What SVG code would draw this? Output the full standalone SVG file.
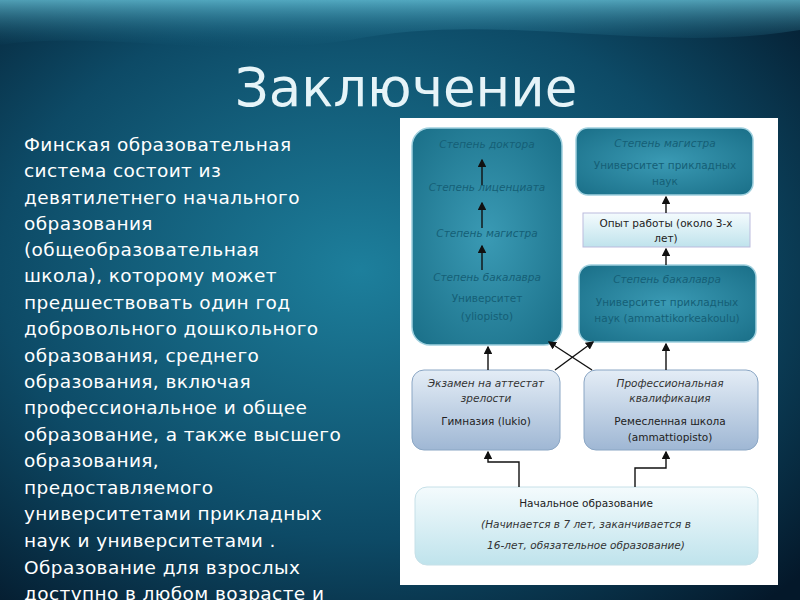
<svg xmlns="http://www.w3.org/2000/svg" width="800" height="600" viewBox="0 0 800 600">
<defs>
<radialGradient id="bg" cx="0.45" cy="0.45" r="0.75">
<stop offset="0" stop-color="#1d7f9c"/><stop offset="0.6" stop-color="#0d4a66"/><stop offset="1" stop-color="#04182a"/>
</radialGradient>
<linearGradient id="top" x1="0" y1="0" x2="0" y2="1"><stop offset="0" stop-color="#6fd0e6"/><stop offset="1" stop-color="#1a6b88" stop-opacity="0"/></linearGradient>
<radialGradient id="dark" cx="0.5" cy="0.5" r="0.7"><stop offset="0" stop-color="#3a9ab4"/><stop offset="1" stop-color="#1a6f88"/></radialGradient>
<linearGradient id="lite" x1="0" y1="0" x2="0" y2="1"><stop offset="0" stop-color="#e4edf6"/><stop offset="1" stop-color="#9fb7d4"/></linearGradient>
<linearGradient id="pale" x1="0" y1="0" x2="0" y2="1"><stop offset="0" stop-color="#f4fbfd"/><stop offset="1" stop-color="#bfe3ec"/></linearGradient>
<marker id="ar" markerWidth="6" markerHeight="6" refX="5" refY="3" orient="auto"><path d="M0,0 L6,3 L0,6 z" fill="#111"/></marker>
<style>
.t{font-family:"DejaVu Sans",sans-serif;fill:#fff;font-size:18.5px;letter-spacing:0.4px}
.d{stroke:#9fd0de;stroke-width:1.5}
.l{stroke:#8aa6c4;stroke-width:1}
.n{font-family:"DejaVu Sans",sans-serif;font-size:10.5px;text-anchor:middle}
.i{font-style:italic}
.c line,.c path{stroke:#111;stroke-width:1.4;fill:none;marker-end:url(#ar)}
</style>
</defs>
<rect width="800" height="600" fill="url(#bg)"/>
<path d="M0,0 H800 V30 C650,55 500,10 350,40 C220,60 100,30 0,45 Z" fill="url(#top)" opacity="0.7"/>
<text x="406" y="106" font-family="DejaVu Sans,sans-serif" font-size="53" fill="#e6f4f8" text-anchor="middle">Заключение</text>
<g class="t">
<text x="24" y="151">Финская образовательная</text>
<text x="24" y="177">система состоит из</text>
<text x="24" y="204">девятилетнего начального</text>
<text x="24" y="230">образования</text>
<text x="24" y="256">(общеобразовательная</text>
<text x="24" y="282">школа), которому может</text>
<text x="24" y="309">предшествовать один год</text>
<text x="24" y="335">добровольного дошкольного</text>
<text x="24" y="362">образования, среднего</text>
<text x="24" y="388">образования, включая</text>
<text x="24" y="414">профессиональное и общее</text>
<text x="24" y="441">образование, а также высшего</text>
<text x="24" y="467">образования,</text>
<text x="24" y="494">предоставляемого</text>
<text x="24" y="520">университетами прикладных</text>
<text x="24" y="547">наук и университетами .</text>
<text x="24" y="574">Образование для взрослых</text>
<text x="24" y="600">доступно в любом возрасте и</text>
</g>
<rect x="400" y="118" width="378" height="467" fill="#fff"/>
<g id="uni"><rect x="412" y="128" width="150" height="217" rx="18" fill="url(#dark)" class="d"/>
<g class="n i" fill="#155f76"><text x="487" y="148">Степень доктора</text><text x="487" y="191">Степень лиценциата</text><text x="487" y="237">Степень магистра</text><text x="487" y="281">Степень бакалавра</text></g>
<g class="n" fill="#155f76"><text x="487" y="302">Университет</text><text x="487" y="320">(yliopisto)</text></g></g>
<g id="mag"><rect x="576" y="128" width="177" height="67" rx="12" fill="url(#dark)" class="d"/>
<text class="n i" x="665" y="147" fill="#155f76">Степень магистра</text>
<text class="n" x="665" y="169" fill="#155f76">Университет прикладных</text><text class="n" x="665" y="185" fill="#155f76">наук</text></g>
<g id="work"><rect x="583" y="213" width="167" height="34" fill="url(#pale)" stroke="#bbd" stroke-width="1"/>
<text class="n" x="666" y="227" fill="#222">Опыт работы (около 3-х</text><text class="n" x="666" y="242" fill="#222">лет)</text></g>
<g id="bach"><rect x="579" y="265" width="177" height="77" rx="12" fill="url(#dark)" class="d"/>
<text class="n i" x="667" y="283" fill="#155f76">Степень бакалавра</text>
<text class="n" x="667" y="306" fill="#155f76">Университет прикладных</text><text class="n" x="667" y="322" fill="#155f76">наук (ammattikorkeakoulu)</text></g>
<g id="gym"><rect x="412" y="370" width="148" height="80" rx="12" fill="url(#lite)" class="l"/>
<text class="n i" x="486" y="387" fill="#333" font-size="10">Экзамен на аттестат</text><text class="n i" x="486" y="402" fill="#333" font-size="10">зрелости</text>
<text class="n" x="486" y="425" fill="#222">Гимназия (lukio)</text></g>
<g id="craft"><rect x="584" y="370" width="174" height="80" rx="12" fill="url(#lite)" class="l"/>
<text class="n i" x="670" y="387" fill="#333" font-size="10">Профессиональная</text><text class="n i" x="670" y="402" fill="#333" font-size="10">квалификация</text>
<text class="n" x="670" y="425" fill="#222">Ремесленная школа</text><text class="n" x="670" y="441" fill="#222">(ammattiopisto)</text></g>
<g id="prim"><rect x="415" y="487" width="343" height="78" rx="12" fill="url(#pale)" stroke="#c6e0e8"/>
<text class="n" x="586" y="507" fill="#222">Начальное образование</text>
<text class="n i" x="586" y="528" fill="#333" font-size="10">(Начинается в 7 лет, заканчивается в</text>
<text class="n i" x="586" y="549" fill="#333" font-size="10">16-лет, обязательное образование)</text></g>
<g class="c" id="connectors">
<line x1="482" y1="185" x2="482" y2="160"/><line x1="482" y1="228" x2="482" y2="203"/><line x1="482" y1="270" x2="482" y2="246"/>
<line x1="488" y1="370" x2="488" y2="347"/>
<line x1="555" y1="370" x2="593" y2="342"/><line x1="592" y1="370" x2="549" y2="342"/>
<line x1="666" y1="370" x2="666" y2="344"/>
<line x1="666" y1="265" x2="666" y2="249"/><line x1="666" y1="213" x2="666" y2="197"/>
<path d="M519,487 V462 H488 V452"/><path d="M635,487 V468 H666 V452"/>
</g>
</svg>
